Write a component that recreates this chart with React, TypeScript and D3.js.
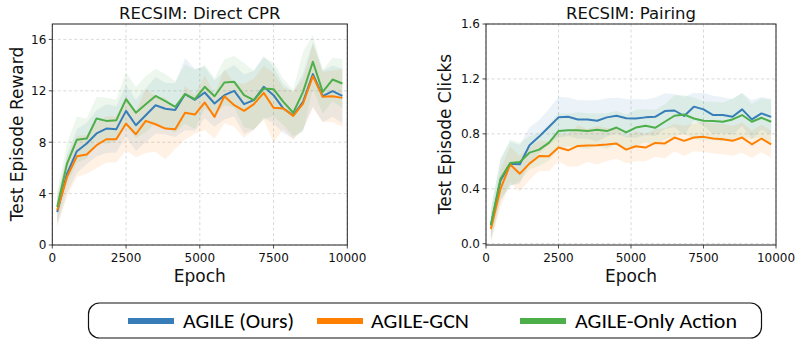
import React from "react";
import * as d3 from "d3";

const epochs = [167, 500, 833, 1167, 1500, 1833, 2167, 2500, 2833, 3167, 3500, 3833, 4167, 4500, 4833, 5167, 5500, 5833, 6167, 6500, 6833, 7167, 7500, 7833, 8167, 8500, 8833, 9167, 9500, 9833];

// RECSIM: Direct CPR
const blueCPR = [2.57, 5.56, 7.3, 7.9, 8.68, 9.06, 9.0, 10.44, 9.32, 10.1, 10.88, 10.6, 10.5, 11.74, 11.3, 11.87, 11.01, 11.66, 12.0, 10.96, 11.27, 12.31, 11.66, 10.62, 10.1, 11.14, 13.3, 11.58, 11.97, 11.6];
const orangeCPR = [2.7, 5.3, 6.9, 7.04, 7.77, 8.23, 8.23, 9.45, 8.62, 9.66, 9.4, 9.06, 9.0, 10.3, 10.15, 11.09, 9.97, 11.58, 10.88, 10.44, 10.96, 11.84, 10.68, 10.62, 10.05, 11.01, 13.14, 11.53, 11.58, 11.45];
const greenCPR = [2.96, 6.34, 8.2, 8.29, 9.84, 9.66, 9.7, 11.35, 10.3, 10.96, 11.6, 11.2, 10.75, 11.74, 11.35, 12.31, 11.58, 12.65, 12.7, 11.66, 11.27, 12.18, 12.13, 11.14, 10.29, 11.92, 14.26, 11.92, 12.88, 12.57];
const blueStdCPR = [1.1, 1.5, 1.7, 1.6, 1.8, 1.9, 1.8, 2.0, 2.0, 2.1, 2.2, 2.0, 2.1, 2.8, 2.4, 2.0, 1.8, 1.9, 2.0, 2.3, 2.3, 2.4, 2.2, 1.9, 1.8, 2.2, 2.5, 2.0, 2.0, 2.1];
const orangeStdCPR = [1.2, 1.56, 1.6, 1.5, 1.8, 1.8, 1.8, 2.1, 1.8, 2.5, 2.15, 2.4, 1.5, 2.1, 1.5, 2.15, 1.7, 2.1, 1.7, 2.1, 2.0, 2.1, 2.7, 1.6, 1.9, 1.95, 2.5, 1.95, 2.0, 2.25];
const greenStdCPR = [1.2, 1.6, 1.8, 1.55, 1.7, 1.8, 1.6, 2.1, 2.0, 2.2, 2.1, 2.1, 2.0, 2.3, 2.3, 1.7, 1.4, 1.8, 2.0, 2.5, 2.3, 2.4, 2.1, 1.8, 1.8, 3.1, 2.1, 1.7, 1.7, 1.9];

// RECSIM: Pairing
const bluePair = [0.132, 0.46, 0.583, 0.578, 0.717, 0.78, 0.85, 0.92, 0.924, 0.905, 0.905, 0.895, 0.92, 0.932, 0.914, 0.912, 0.92, 0.924, 0.966, 0.97, 0.93, 0.998, 0.978, 0.937, 0.937, 0.924, 0.978, 0.905, 0.949, 0.924];
const orangePair = [0.107, 0.4, 0.576, 0.51, 0.583, 0.639, 0.637, 0.7, 0.68, 0.712, 0.715, 0.717, 0.722, 0.729, 0.685, 0.71, 0.7, 0.734, 0.73, 0.773, 0.749, 0.773, 0.778, 0.766, 0.761, 0.749, 0.773, 0.724, 0.766, 0.724];
const greenPair = [0.137, 0.473, 0.588, 0.595, 0.663, 0.685, 0.734, 0.82, 0.827, 0.827, 0.82, 0.83, 0.82, 0.846, 0.81, 0.846, 0.859, 0.844, 0.888, 0.932, 0.941, 0.912, 0.895, 0.893, 0.888, 0.905, 0.937, 0.888, 0.917, 0.888];
const blueStdPair = [0.12, 0.15, 0.16, 0.14, 0.13, 0.12, 0.13, 0.15, 0.14, 0.14, 0.14, 0.15, 0.14, 0.13, 0.14, 0.14, 0.13, 0.14, 0.13, 0.12, 0.14, 0.1, 0.12, 0.14, 0.13, 0.13, 0.12, 0.14, 0.12, 0.13];
const orangeStdPair = [0.09, 0.14, 0.13, 0.13, 0.12, 0.11, 0.11, 0.1, 0.12, 0.15, 0.12, 0.14, 0.12, 0.11, 0.1, 0.11, 0.1, 0.1, 0.11, 0.1, 0.11, 0.1, 0.11, 0.11, 0.11, 0.11, 0.11, 0.1, 0.1, 0.1];
const greenStdPair = [0.1, 0.15, 0.17, 0.14, 0.12, 0.12, 0.13, 0.13, 0.12, 0.13, 0.13, 0.12, 0.13, 0.12, 0.13, 0.13, 0.12, 0.13, 0.13, 0.15, 0.14, 0.15, 0.14, 0.14, 0.14, 0.15, 0.16, 0.13, 0.14, 0.16];

const seriesNames = ["AGILE (Ours)", "AGILE-GCN", "AGILE-Only Action"];
const seriesColors = ["#377eb8", "#ff7f00", "#4daf4a"];
const xTicks = [0, 2500, 5000, 7500, 10000];
const yTicksCPR = [0, 4, 8, 12, 16];
const yTicksPair = [0, 0.4, 0.8, 1.2, 1.6];

const FONT = "'DejaVu Sans', sans-serif";

type PanelProps = {
  title: string;
  ylabel: string;
  x0: number;
  x1: number;
  yDomain: [number, number];
  yTicks: number[];
  yFmt: (v: number) => string;
  means: number[][];
  stds: number[][];
  ylabelX: number;
};

function Panel(p: PanelProps) {
  const top = 24;
  const bottom = 245;
  const x = d3.scaleLinear().domain([0, 10000]).range([p.x0, p.x1]);
  const y = d3.scaleLinear().domain(p.yDomain).range([bottom, top]);
  const line = d3
    .line<[number, number]>()
    .x((d) => x(d[0]))
    .y((d) => y(d[1]));
  const area = d3
    .area<[number, number, number]>()
    .x((d) => x(d[0]))
    .y0((d) => y(d[1] - d[2]))
    .y1((d) => y(d[1] + d[2]));
  const clipId = "clip" + Math.round(p.x0);
  const cx = (p.x0 + p.x1) / 2;
  return (
    <g>
      <defs>
        <clipPath id={clipId}>
          <rect x={p.x0} y={top} width={p.x1 - p.x0} height={bottom - top} />
        </clipPath>
      </defs>
      {xTicks.map((t) => (
        <line key={"gx" + t} x1={x(t)} x2={x(t)} y1={top} y2={bottom} stroke="#d0d0d0" strokeWidth={0.8} strokeDasharray="3,2.5" />
      ))}
      {p.yTicks.map((t) => (
        <line key={"gy" + t} x1={p.x0} x2={p.x1} y1={y(t)} y2={y(t)} stroke="#d0d0d0" strokeWidth={0.8} strokeDasharray="3,2.5" />
      ))}
      <g clipPath={`url(#${clipId})`}>
        {p.means.map((m, k) => (
          <path
            key={"a" + k}
            d={area(epochs.map((e, i) => [e, m[i], p.stds[k][i]] as [number, number, number])) || ""}
            fill={seriesColors[k]}
            fillOpacity={0.1}
          />
        ))}
        {p.means.map((m, k) => (
          <path
            key={"l" + k}
            d={line(epochs.map((e, i) => [e, m[i]] as [number, number])) || ""}
            fill="none"
            stroke={seriesColors[k]}
            strokeWidth={2}
            strokeLinejoin="round"
          />
        ))}
      </g>
      <rect x={p.x0} y={top} width={p.x1 - p.x0} height={bottom - top} fill="none" stroke="#222" strokeWidth={1} />
      {xTicks.map((t) => (
        <g key={"tx" + t}>
          <line x1={x(t)} x2={x(t)} y1={bottom} y2={bottom + 3.5} stroke="#222" strokeWidth={0.8} />
          <text x={x(t)} y={262} textAnchor="middle" fontFamily={FONT} fontSize={12} fill="#111">
            {t}
          </text>
        </g>
      ))}
      {p.yTicks.map((t) => (
        <g key={"ty" + t}>
          <line x1={p.x0 - 3.5} x2={p.x0} y1={y(t)} y2={y(t)} stroke="#222" strokeWidth={0.8} />
          <text x={p.x0 - 6} y={y(t) + 4.3} textAnchor="end" fontFamily={FONT} fontSize={12} fill="#111">
            {p.yFmt(t)}
          </text>
        </g>
      ))}
      <text x={cx} y={18.5} textAnchor="middle" fontFamily={FONT} fontSize={16.5} fill="#111">
        {p.title}
      </text>
      <text x={cx} y={282} textAnchor="middle" fontFamily={FONT} fontSize={17} fill="#111">
        Epoch
      </text>
      <text
        transform={`translate(${p.ylabelX},${134}) rotate(-90)`}
        textAnchor="middle"
        fontFamily={FONT}
        fontSize={17}
        fill="#111"
      >
        {p.ylabel}
      </text>
    </g>
  );
}

export default function App() {
  const legendItems = [
    { lx: 128, tx: 183, tl: 111 },
    { lx: 317, tx: 371, tl: 98 },
    { lx: 520, tx: 575, tl: 162 },
  ];
  return (
    <svg width={797} height={339} style={{ position: "absolute", left: 0, top: 0, background: "#fff" }}>
      <rect x={0} y={0} width={797} height={339} fill="#fff" />
      <Panel
        title="RECSIM: Direct CPR"
        ylabel="Test Episode Reward"
        x0={52.3}
        x1={347.3}
        yDomain={[0, 17.2]}
        yTicks={yTicksCPR}
        yFmt={(v) => String(v)}
        means={[blueCPR, orangeCPR, greenCPR]}
        stds={[blueStdCPR, orangeStdCPR, greenStdCPR]}
        ylabelX={23}
      />
      <Panel
        title="RECSIM: Pairing"
        ylabel="Test Episode Clicks"
        x0={486}
        x1={776}
        yDomain={[-0.0095, 1.6]}
        yTicks={yTicksPair}
        yFmt={(v) => v.toFixed(1)}
        means={[bluePair, orangePair, greenPair]}
        stds={[blueStdPair, orangeStdPair, greenStdPair]}
        ylabelX={451}
      />
      <rect x={88.5} y={303} width={673} height={35} rx={11} ry={11} fill="#fff" stroke="#111" strokeWidth={1.2} />
      {legendItems.map((it, k) => (
        <g key={"lg" + k}>
          <line x1={it.lx} x2={it.lx + 46} y1={321} y2={321} stroke={seriesColors[k]} strokeWidth={6} />
          <text
            x={it.tx}
            y={328.3}
            fontFamily="Carlito, 'Liberation Sans Narrow', 'Liberation Sans', sans-serif"
            fontSize={19.5}
            fontWeight={400}
            fill="#000"
            textLength={it.tl}
            lengthAdjust="spacingAndGlyphs"
          >
            {seriesNames[k]}
          </text>
        </g>
      ))}
    </svg>
  );
}
